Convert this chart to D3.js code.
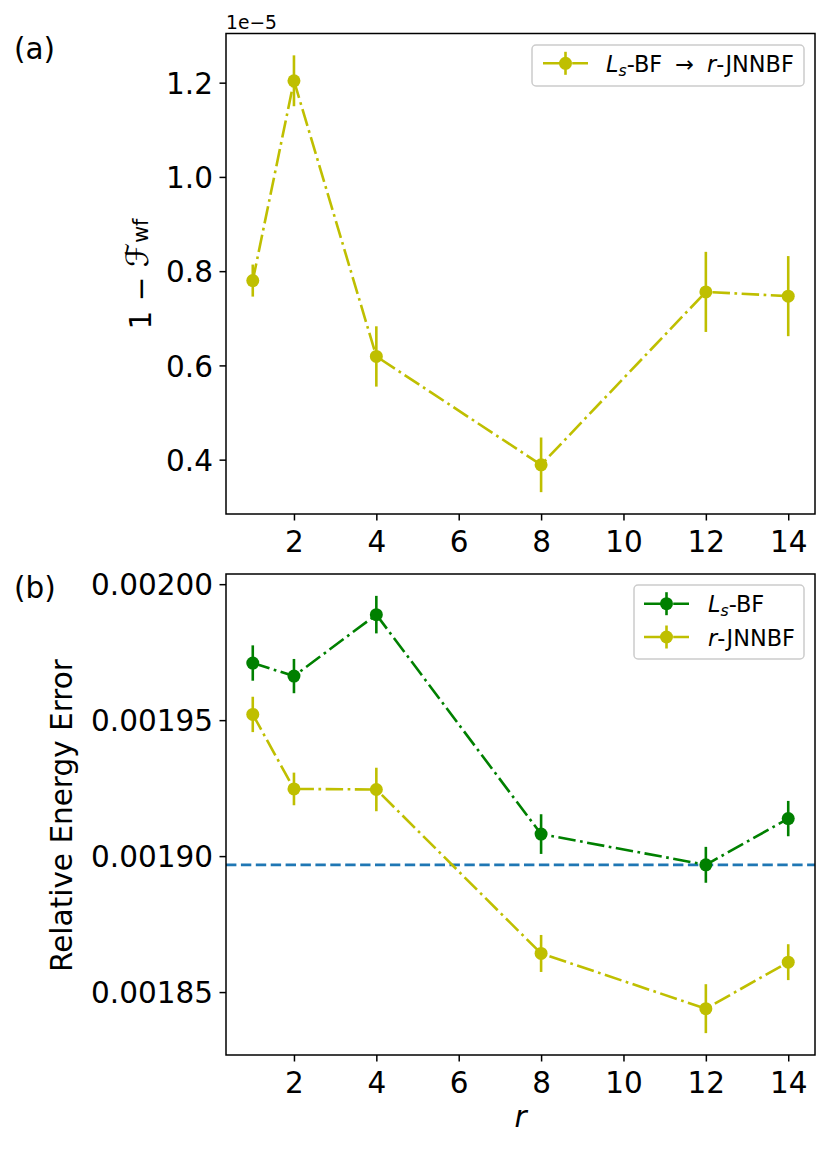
<!DOCTYPE html>
<html>
<head>
<meta charset="utf-8">
<script src="https://cdn.jsdelivr.net/npm/d3@7"></script>
<style>
  html, body { margin: 0; padding: 0; background: #fff; }
  svg { display: block; font-family: "DejaVu Sans", sans-serif; }
</style>
</head>
<body>
<svg id="chart" width="830" height="1149"></svg>
<script>
// ---------------- data ----------------
const rValues = [1, 2, 4, 8, 12, 14];
const xTicks = [2, 4, 6, 8, 10, 12, 14];

// panel (a): 1 - F_wf (in units of 1e-5)
const infidelity = [0.780, 1.204, 0.619, 0.389, 0.756, 0.747];
const infidelityErr = [0.034, 0.054, 0.064, 0.058, 0.085, 0.085];
const topYTicks = [0.4, 0.6, 0.8, 1.0, 1.2];

// panel (b): relative energy error
const lsbfEnergy = [0.0019710, 0.0019662, 0.0019888, 0.0019081, 0.0018968, 0.0019138];
const lsbfErr = [0.0000065, 0.0000063, 0.0000069, 0.0000073, 0.0000066, 0.0000065];
const jnnbfEnergy = [0.0019521, 0.0019247, 0.0019245, 0.0018642, 0.0018439, 0.0018610];
const jnnbfErr = [0.0000065, 0.0000060, 0.0000080, 0.0000068, 0.0000090, 0.0000066];
const referenceLine = 0.0018968;
const bottomYTicks = [0.00185, 0.00190, 0.00195, 0.00200];

// ---------------- style ----------------
const YELLOW = "#bfbf00", GREEN = "#008000", BLUE = "#1f77b4";
const LW = 2.6, MR = 6.5;
const DASHDOT = "17.5,4.5,2.7,4.5";
const FS = 29.5, LFS = 22.4;

const svg = d3.select("#chart");
const left = 226, right = 815;
const panels = [{top: 33.5, bottom: 514}, {top: 574, bottom: 1055}];

const x = d3.scaleLinear().domain([0.35, 14.65]).range([left, right]);

function padded(lo, hi) { const m = (hi - lo) * 0.05; return [lo - m, hi + m]; }

const topLo = d3.min(infidelity.map((v, i) => v - infidelityErr[i]));
const topHi = d3.max(infidelity.map((v, i) => v + infidelityErr[i]));
const yTop = d3.scaleLinear().domain(padded(topLo, topHi)).range([panels[0].bottom, panels[0].top]);

const allLo = d3.min([...lsbfEnergy.map((v, i) => v - lsbfErr[i]), ...jnnbfEnergy.map((v, i) => v - jnnbfErr[i])]);
const allHi = d3.max([...lsbfEnergy.map((v, i) => v + lsbfErr[i]), ...jnnbfEnergy.map((v, i) => v + jnnbfErr[i])]);
const yBot = d3.scaleLinear().domain(padded(allLo, allHi)).range([panels[1].bottom, panels[1].top]);

function drawAxes(p, y, yTicks, yFmt) {
  const gx = svg.append("g").attr("transform", `translate(0,${p.bottom})`)
    .call(d3.axisBottom(x).tickValues(xTicks).tickSize(6.5).tickPadding(6.5).tickFormat(d3.format("d")));
  gx.select(".domain").remove();
  gx.selectAll("line").attr("stroke", "#000").attr("stroke-width", 1.5);
  gx.selectAll("text").attr("font-size", FS).attr("font-family", "DejaVu Sans")
    .attr("y", 0).attr("dy", 37.5).attr("fill", "#000");

  const gy = svg.append("g").attr("transform", `translate(${left},0)`)
    .call(d3.axisLeft(y).tickValues(yTicks).tickSize(6.5).tickPadding(6.5).tickFormat(yFmt));
  gy.select(".domain").remove();
  gy.selectAll("line").attr("stroke", "#000").attr("stroke-width", 1.5);
  gy.selectAll("text").attr("font-size", FS).attr("font-family", "DejaVu Sans")
    .attr("dy", "0.36em").attr("fill", "#000");
}

function drawFrame(p) {
  svg.append("rect").attr("x", left).attr("y", p.top)
    .attr("width", right - left).attr("height", p.bottom - p.top)
    .attr("fill", "none").attr("stroke", "#000").attr("stroke-width", 1.5);
}

function drawSeries(y, vals, errs, color) {
  const g = svg.append("g");
  g.selectAll("line.err").data(rValues).join("line").attr("class", "err")
    .attr("x1", d => x(d)).attr("x2", d => x(d))
    .attr("y1", (d, i) => y(vals[i] - errs[i])).attr("y2", (d, i) => y(vals[i] + errs[i]))
    .attr("stroke", color).attr("stroke-width", LW);
  const line = d3.line().x((d, i) => x(rValues[i])).y(d => y(d));
  g.append("path").attr("d", line(vals)).attr("fill", "none")
    .attr("stroke", color).attr("stroke-width", LW).attr("stroke-dasharray", DASHDOT);
  g.selectAll("circle").data(vals).join("circle")
    .attr("cx", (d, i) => x(rValues[i])).attr("cy", d => y(d)).attr("r", MR).attr("fill", color);
}

function legendHandle(cx, cy, color) {
  const g = svg.append("g");
  g.append("line").attr("x1", cx - 22.5).attr("x2", cx + 22.5).attr("y1", cy).attr("y2", cy)
    .attr("stroke", color).attr("stroke-width", LW).attr("stroke-dasharray", DASHDOT);
  g.append("line").attr("x1", cx).attr("x2", cx).attr("y1", cy - 11.5).attr("y2", cy + 11.5)
    .attr("stroke", color).attr("stroke-width", LW);
  g.append("circle").attr("cx", cx).attr("cy", cy).attr("r", MR).attr("fill", color);
}

function legendBox(x0, y0, x1, y1) {
  svg.append("rect").attr("x", x0).attr("y", y0).attr("width", x1 - x0).attr("height", y1 - y0)
    .attr("rx", 4).attr("fill", "#fff").attr("fill-opacity", 0.8)
    .attr("stroke", "#cccccc").attr("stroke-width", 1.5);
}

// ---------------- panel (a) ----------------
drawSeries(yTop, infidelity, infidelityErr, YELLOW);
drawFrame(panels[0]);
drawAxes(panels[0], yTop, topYTicks, d3.format(".1f"));

svg.append("text").attr("x", left).attr("y", 29).attr("font-size", 18.7).text("1e\u22125");
svg.append("text").attr("x", 14).attr("y", 58.5).attr("font-size", FS).text("(a)");

const ylTop = svg.append("text").attr("transform", "translate(151,274) rotate(-90)")
  .attr("text-anchor", "middle").attr("font-size", FS);
ylTop.append("tspan").text("1 \u2212 ");
ylTop.append("tspan").attr("dy", -3).attr("font-style", "italic").attr("font-size", FS * 1.05).text("\u2131");
ylTop.append("tspan").attr("font-size", FS * 0.7).attr("dy", 0).text("wf");

legendBox(532, 45, 804, 86);
legendHandle(565.5, 63.3, YELLOW);
const lt = svg.append("text").attr("x", 606).attr("y", 72).attr("font-size", LFS).attr("xml:space", "preserve");
lt.append("tspan").attr("font-style", "italic").text("L");
lt.append("tspan").attr("font-style", "italic").attr("font-size", LFS * 0.7).attr("dy", 4).text("s");
lt.append("tspan").attr("dy", -4).text("-BF");
lt.append("tspan").attr("dx", 13).text("\u2192");
lt.append("tspan").attr("dx", 13).attr("font-style", "italic").text("r");
lt.append("tspan").text("-JNNBF");

// ---------------- panel (b) ----------------
svg.append("line").attr("x1", left).attr("x2", right)
  .attr("y1", yBot(referenceLine)).attr("y2", yBot(referenceLine))
  .attr("stroke", BLUE).attr("stroke-width", 2.8).attr("stroke-dasharray", "10.4,4.5");
drawSeries(yBot, lsbfEnergy, lsbfErr, GREEN);
drawSeries(yBot, jnnbfEnergy, jnnbfErr, YELLOW);
drawFrame(panels[1]);
drawAxes(panels[1], yBot, bottomYTicks, d3.format(".5f"));

svg.append("text").attr("x", 14).attr("y", 598).attr("font-size", FS).text("(b)");
svg.append("text").attr("transform", `translate(72,${(panels[1].top + panels[1].bottom) / 2 + 1}) rotate(-90)`)
  .attr("text-anchor", "middle").attr("font-size", FS).text("Relative Energy Error");
svg.append("text").attr("x", (left + right) / 2).attr("y", 1127).attr("text-anchor", "middle")
  .attr("font-size", FS).attr("font-style", "italic").text("r");

legendBox(634, 585, 804, 659);
legendHandle(666.5, 603.7, GREEN);
legendHandle(666.5, 637, YELLOW);
const l1 = svg.append("text").attr("x", 708).attr("y", 612).attr("font-size", LFS);
l1.append("tspan").attr("font-style", "italic").text("L");
l1.append("tspan").attr("font-style", "italic").attr("font-size", LFS * 0.7).attr("dy", 4).text("s");
l1.append("tspan").attr("dy", -4).text("-BF");
const l2 = svg.append("text").attr("x", 708).attr("y", 645.5).attr("font-size", LFS);
l2.append("tspan").attr("font-style", "italic").text("r");
l2.append("tspan").text("-JNNBF");
</script>
</body>
</html>
